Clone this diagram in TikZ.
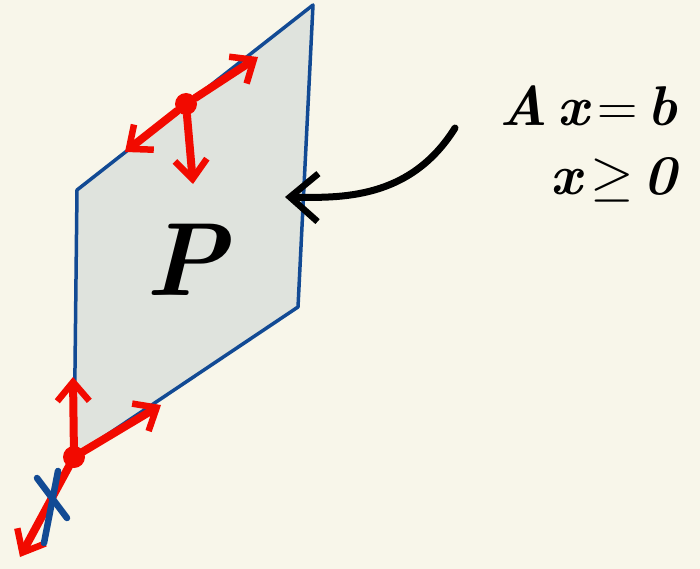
\documentclass[tikz,border=0pt]{standalone}
\usepackage{fix-cm}
\usetikzlibrary{arrows.meta}
\definecolor{bg}{HTML}{F8F6EA}
\definecolor{pfill}{HTML}{DFE3DD}
\definecolor{pedge}{HTML}{124A94}
\definecolor{vred}{HTML}{F20A00}
\begin{document}
\begin{tikzpicture}[x=1pt,y=-1pt,
  edge/.style={draw=pedge,line width=3.5pt,line join=round},
  redarrow/.style={draw=vred,line width=8pt,line cap=round,-{Straight Barb[length=19pt,width=32pt,line width=6.5pt]}},
  dot/.style={circle,fill=vred,inner sep=0pt,minimum size=22pt},
  pointer/.style={draw=black,line width=7pt,line cap=round,-{Straight Barb[length=28pt,width=48pt,line width=6.5pt]}},
  handtext/.style={inner sep=0pt,font=\fontsize{56}{56}\selectfont\bfseries\itshape},
  bigtext/.style={inner sep=0pt,font=\fontsize{104}{104}\selectfont\bfseries\itshape}]
\useasboundingbox (0,0) rectangle (700,569);
\fill[bg] (0,0) rectangle (700,569);
\coordinate (t) at (313,5);
\coordinate (r) at (298,307);
\coordinate (b) at (74,457);
\coordinate (l) at (77,190);
\path[edge,fill=pfill] (t) -- (r) -- (b) -- (l) -- cycle;
\node[bigtext] (P) at (186,260) {P};
% upper point
\node[dot] (d1) at (186,104) {};
\coordinate (a1) at (258,57);
\coordinate (a2) at (125,152);
\coordinate (a3) at (193,184);
\draw[redarrow] (d1) -- (a1);
\draw[redarrow] (d1) -- (a2);
\draw[redarrow] (d1) -- (a3);
% bottom vertex
\coordinate (b1) at (73,377);
\coordinate (b2) at (161,405);
\coordinate (b3) at (20,557);
\draw[redarrow] (b) -- (b1);
\draw[redarrow] (b) -- (b2);
\draw[redarrow] (b) -- (b3);
\node[dot] (d2) at (b) {};
% blue cross
\coordinate (x1) at (37,478);
\coordinate (x2) at (67,518);
\coordinate (x3) at (58,471);
\coordinate (x4) at (44,543);
\draw[pedge,line width=6.5pt,line cap=round] (x1) -- (x2);
\draw[pedge,line width=6.5pt,line cap=round] (x3) -- (x4);
% constraints
\node[handtext,anchor=west] (eq1) at (499,106) {A\,x\,$=$\,b};
\node[handtext,anchor=west] (eq2) at (550,180) {x\,$\geq$\,0};
\coordinate (s) at (455,128);
\coordinate (e) at (285,197);
\draw[pointer] (s) .. controls (410,200) and (340,198) .. (e);
\end{tikzpicture}
\end{document}
